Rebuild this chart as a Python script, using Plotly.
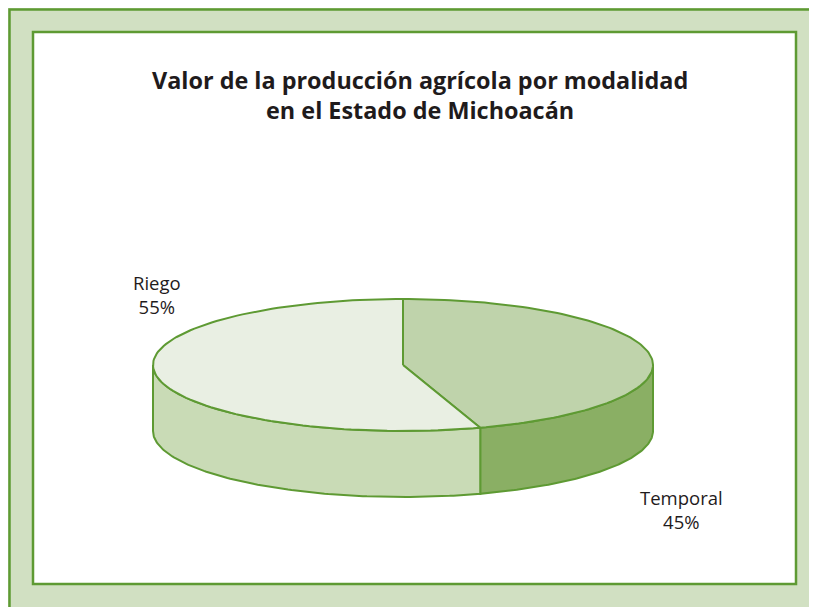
import numpy as np
import plotly.graph_objects as go

# data
categories = ["Temporal", "Riego"]
shares = [45, 55]
labels = ["Temporal<br>45%", "Riego<br>55%"]

top_colors = ["#bfd3ab", "#e9efe3"]
side_colors = ["#8aaf64", "#c9dbb6"]
edge = "#5e9a33"

W, H = 817, 607
off = 8                # page body margin, so axis units = screen pixels
cx, cy = 403, 365      # pie centre (pixels)
rx, ry = 250, 66       # ellipse radii
depth = 66             # pie thickness

fig = go.Figure()

# slice angles, starting at 12 o'clock going clockwise
start = -np.pi / 2
bounds = []
for s in shares:
    end = start + 2 * np.pi * s / 100
    bounds.append((start, end))
    start = end


def arc(a0, a1, n=120):
    t = np.linspace(a0, a1, n)
    return cx + rx * np.cos(t), cy + ry * np.sin(t)


# side walls (front half only)
for (a0, a1), col in zip(bounds, side_colors):
    lo, hi = max(a0, 0), min(a1, np.pi)
    if hi <= lo:
        continue
    xs, ys = arc(lo, hi)
    px = np.concatenate([xs, xs[::-1], xs[:1]])
    py = np.concatenate([ys, ys[::-1] + depth, ys[:1]])
    fig.add_trace(go.Scatter(x=px, y=py, mode="lines", fill="toself",
                             fillcolor=col, line=dict(color=edge, width=2),
                             hoverinfo="skip", showlegend=False))

# top faces
for (a0, a1), col in zip(bounds, top_colors):
    xs, ys = arc(a0, a1)
    px = np.concatenate([[cx], xs, [cx]])
    py = np.concatenate([[cy], ys, [cy]])
    fig.add_trace(go.Scatter(x=px, y=py, mode="lines", fill="toself",
                             fillcolor=col, line=dict(color=edge, width=2),
                             hoverinfo="skip", showlegend=False))

# frames
fig.add_shape(type="rect", x0=9.5, x1=840, y0=9.5, y1=640,
              fillcolor="#d1e0c2", line=dict(color=edge, width=2.5), layer="below")
fig.add_shape(type="rect", x0=33, x1=796, y0=32, y1=584,
              fillcolor="white", line=dict(color=edge, width=2.5), layer="below")

txt = "#1f1b1c"
fig.add_annotation(x=420, y=95,
                   text="<b>Valor de la producción agrícola por modalidad<br>en el Estado de Michoacán</b>",
                   showarrow=False, font=dict(family="Open Sans", size=23.4, color=txt),
                   xanchor="center", yanchor="middle")
fig.add_annotation(x=681, y=509, text=labels[0], showarrow=False,
                   font=dict(family="Open Sans", size=18.5, color=txt))
fig.add_annotation(x=157, y=294, text=labels[1], showarrow=False,
                   font=dict(family="Open Sans", size=18.5, color=txt))

fig.update_layout(
    width=W, height=H,
    margin=dict(l=0, r=0, t=0, b=0),
    paper_bgcolor="#d1e0c2", plot_bgcolor="rgba(0,0,0,0)",
    xaxis=dict(range=[off, W + off], visible=False, fixedrange=True),
    yaxis=dict(range=[H + off, off], visible=False, fixedrange=True),
)

fig.write_html("out.html")
